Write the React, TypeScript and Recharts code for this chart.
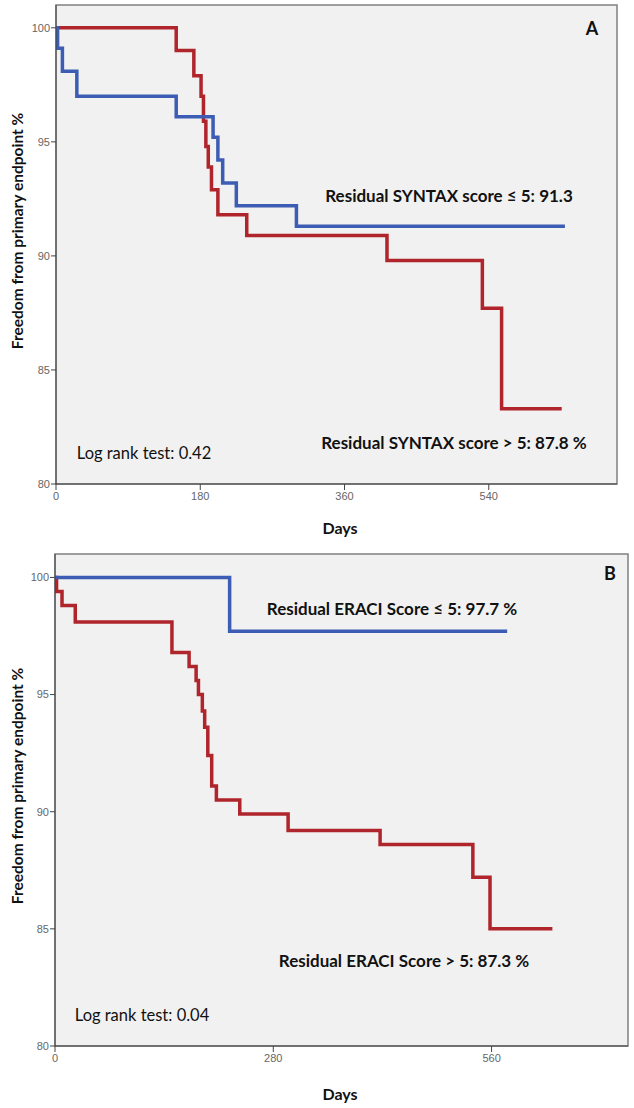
import { LineChart, Line, XAxis, YAxis, CartesianGrid, ReferenceArea } from 'recharts';

// Panel A: residual SYNTAX score
const syntaxLowDays = [0, 2, 8, 26, 150, 196, 202, 208, 225, 300, 635];
const syntaxLowVals = [100, 99.1, 98.1, 97.0, 96.1, 95.2, 94.2, 93.2, 92.2, 91.3, 91.3];
const syntaxHighDays = [0, 150, 172, 181, 184, 187, 190, 194, 202, 238, 413, 532, 556, 631];
const syntaxHighVals = [100, 99.0, 97.9, 97.0, 95.9, 94.8, 93.9, 92.9, 91.8, 90.9, 89.8, 87.7, 83.3, 83.3];
const daysTicksA = [0, 180, 360, 540];

// Panel B: residual ERACI score
const eraciLowDays = [0, 224, 580];
const eraciLowVals = [100, 97.7, 97.7];
const eraciHighDays = [0, 2, 9, 26, 150, 172, 181, 184, 189, 192, 196, 201, 207, 237, 299, 417, 536, 558, 638];
const eraciHighVals = [100, 99.4, 98.8, 98.1, 96.8, 96.2, 95.6, 95.0, 94.3, 93.6, 92.4, 91.1, 90.5, 89.9, 89.2, 88.6, 87.2, 85.0, 85.0];
const daysTicksB = [0, 280, 560];

const pctTicks = [80, 85, 90, 95, 100];

const toRows = (days: number[], vals: number[]) => days.map((d, i) => ({ day: d, v: vals[i] }));

const RED = '#b0242b';
const BLUE = '#3d5db4';
const tickStyle = { fill: '#666', fontSize: 11, fontFamily: '"Liberation Sans Narrow", "Liberation Sans", sans-serif' };
const boldFont = 'Lato, "Open Sans", sans-serif';

function Txt({ x, y, children, size = 17, bold = true, rotate = false }: any) {
  return (
    <div
      style={{
        position: 'absolute', left: x, top: y, transform: `translate(-50%, -50%)${rotate ? ' rotate(-90deg)' : ''}`,
        whiteSpace: 'nowrap', fontFamily: boldFont, fontWeight: bold ? 700 : 400, fontSize: size, color: '#111',
      }}
    >
      {children}
    </div>
  );
}

function Panel({ top, height, margin, xMax, xTicks, low, high }: any) {
  return (
    <div style={{ position: 'absolute', left: 0, top, width: 634, height }}>
      <LineChart width={634} height={height} margin={margin}>
        <CartesianGrid horizontal={false} vertical={false} fill="#f1f1f1" />
        <ReferenceArea x1={0} x2={xMax} y1={80} y2={101} fill="none" stroke="#808080" strokeWidth={1.5} />
        <XAxis type="number" dataKey="day" domain={[0, xMax]} ticks={xTicks} allowDataOverflow height={60}
          tick={tickStyle} stroke="#444" tickSize={6} tickMargin={2} />
        <YAxis type="number" dataKey="v" domain={[80, 101]} ticks={pctTicks} allowDataOverflow width={40}
          tick={tickStyle} stroke="#444" tickSize={5} tickMargin={1} />
        <Line data={high} dataKey="v" type="stepAfter" stroke={RED} strokeWidth={3.5} dot={false} isAnimationActive={false} />
        <Line data={low} dataKey="v" type="stepAfter" stroke={BLUE} strokeWidth={3.5} dot={false} isAnimationActive={false} />
      </LineChart>
    </div>
  );
}

export default function App() {
  return (
    <div style={{ position: 'absolute', left: 0, top: 0, width: 634, height: 1108, background: '#fff', overflow: 'hidden' }}>
      <Panel top={0} height={545} margin={{ top: 5, right: 17, left: 16, bottom: 1 }} xMax={700} xTicks={daysTicksA}
        low={toRows(syntaxLowDays, syntaxLowVals)} high={toRows(syntaxHighDays, syntaxHighVals)} />
      <Panel top={540} height={568} margin={{ top: 14, right: 6, left: 15, bottom: 2 }} xMax={735} xTicks={daysTicksB}
        low={toRows(eraciLowDays, eraciLowVals)} high={toRows(eraciHighDays, eraciHighVals)} />

      <Txt x={592} y={28} size={18}>A</Txt>
      <Txt x={449} y={195}>Residual SYNTAX score ≤ 5: 91.3</Txt>
      <Txt x={454} y={442}>Residual SYNTAX score &gt; 5: 87.8 %</Txt>
      <Txt x={144} y={453} size={16.5} bold={false}>Log rank test: 0.42</Txt>
      <Txt x={17} y={231} size={15.5} rotate>Freedom from primary endpoint %</Txt>
      <Txt x={340} y={527} size={16}>Days</Txt>

      <Txt x={610} y={573} size={18}>B</Txt>
      <Txt x={392} y={608}>Residual ERACI Score ≤ 5: 97.7 %</Txt>
      <Txt x={404} y={960}>Residual ERACI Score &gt; 5: 87.3 %</Txt>
      <Txt x={142} y={1015} size={16.5} bold={false}>Log rank test: 0.04</Txt>
      <Txt x={17} y={786} size={15.5} rotate>Freedom from primary endpoint %</Txt>
      <Txt x={340} y={1093} size={16}>Days</Txt>
    </div>
  );
}
